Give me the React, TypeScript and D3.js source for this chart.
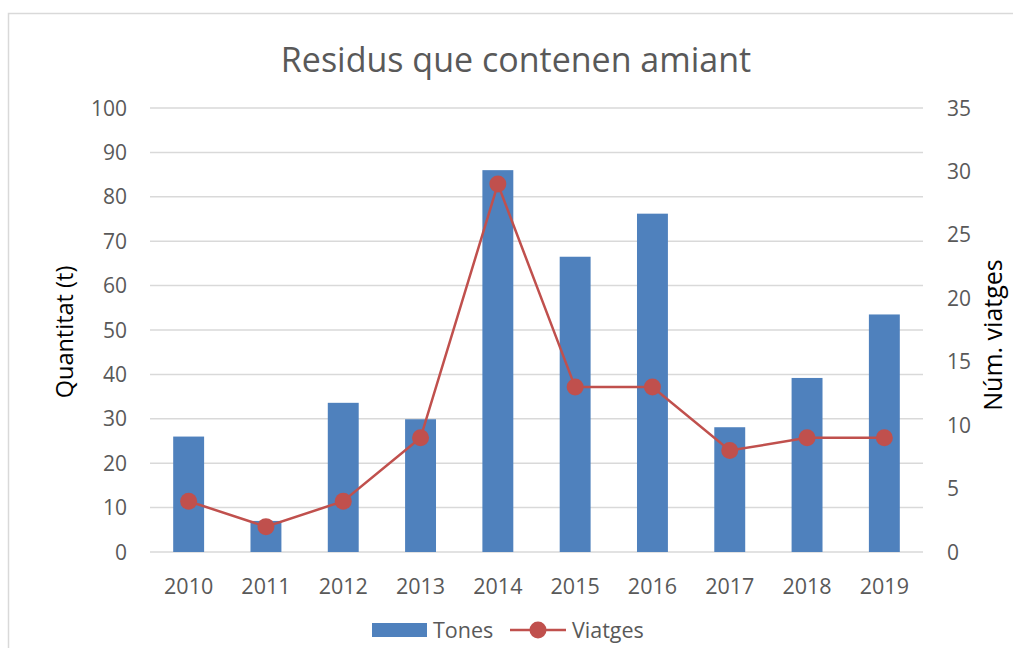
import React from 'react'
import * as d3 from 'd3'

const years = ['2010', '2011', '2012', '2013', '2014', '2015', '2016', '2017', '2018', '2019']
const tones = [26, 7, 33.6, 29.9, 86, 66.5, 76.2, 28.1, 39.2, 53.5]
const viatges = [4, 2, 4, 9, 29, 13, 13, 8, 9, 9]
const leftTicks = [0, 10, 20, 30, 40, 50, 60, 70, 80, 90, 100]
const rightTicks = [0, 5, 10, 15, 20, 25, 30, 35]

const W = 1013
const H = 648
const font = '"Open Sans", sans-serif'
const textCol = '#595959'

export default function App() {
  const margin = { left: 150, right: 90, top: 108, bottom: 96 }
  const x = d3.scaleBand().domain(years).range([margin.left, W - margin.right]).paddingInner(0.6).paddingOuter(0.3)
  const yL = d3.scaleLinear().domain([0, 100]).range([H - margin.bottom, margin.top])
  const yR = d3.scaleLinear().domain([0, 35]).range([H - margin.bottom, margin.top])

  const cx = (i: number) => (x(years[i]) as number) + x.bandwidth() / 2
  const line = d3.line<number>().x((_, i) => cx(i)).y((d) => yR(d))
  const midY = (yL(0) + yL(100)) / 2

  return (
    <svg width={W} height={H} style={{ position: 'absolute', left: 0, top: 0 }} fontFamily={font}>
      <rect x={0} y={0} width={W} height={H} fill="#fff" />
      <rect x={8.5} y={13.5} width={W + 10} height={H + 10} fill="none" stroke="#d9d9d9" strokeWidth={1.5} />

      <text x={516} y={72} textAnchor="middle" fontSize={34} fill={textCol}>Residus que contenen amiant</text>

      {leftTicks.map((t) => (
        <g key={'l' + t}>
          <line x1={margin.left} x2={W - margin.right} y1={yL(t)} y2={yL(t)} stroke="#d9d9d9" strokeWidth={1.5} />
          <text x={127} y={yL(t)} dy="0.36em" textAnchor="end" fontSize={21} fill={textCol}>{t}</text>
        </g>
      ))}
      {rightTicks.map((t) => (
        <text key={'r' + t} x={947} y={yR(t)} dy="0.36em" fontSize={21} fill={textCol}>{t}</text>
      ))}

      {years.map((yr, i) => (
        <g key={yr}>
          <rect x={x(yr)} y={yL(tones[i])} width={x.bandwidth()} height={yL(0) - yL(tones[i])} fill="#4f81bd" />
          <text x={cx(i)} y={586} dy="0.36em" textAnchor="middle" fontSize={21.5} fill={textCol}>{yr}</text>
        </g>
      ))}

      <path d={line(viatges) as string} fill="none" stroke="#c0504d" strokeWidth={2.5} />
      {viatges.map((v, i) => (
        <circle key={'c' + i} cx={cx(i)} cy={yR(v)} r={8.5} fill="#c0504d" />
      ))}

      <text transform={`translate(73,${midY + 2}) rotate(-90)`} textAnchor="middle" fontSize={23.5} fill="#000">Quantitat (t)</text>
      <text transform={`translate(1002,${midY + 5}) rotate(-90)`} textAnchor="middle" fontSize={25} fill="#000">Núm. viatges</text>

      <rect x={372} y={623} width={55} height={14} fill="#4f81bd" />
      <text x={433} y={630} dy="0.36em" fontSize={21.5} fill={textCol}>Tones</text>
      <line x1={510} x2={566} y1={630} y2={630} stroke="#c0504d" strokeWidth={2.5} />
      <circle cx={538} cy={630} r={8.5} fill="#c0504d" />
      <text x={572} y={630} dy="0.36em" fontSize={21.5} fill={textCol}>Viatges</text>
    </svg>
  )
}
